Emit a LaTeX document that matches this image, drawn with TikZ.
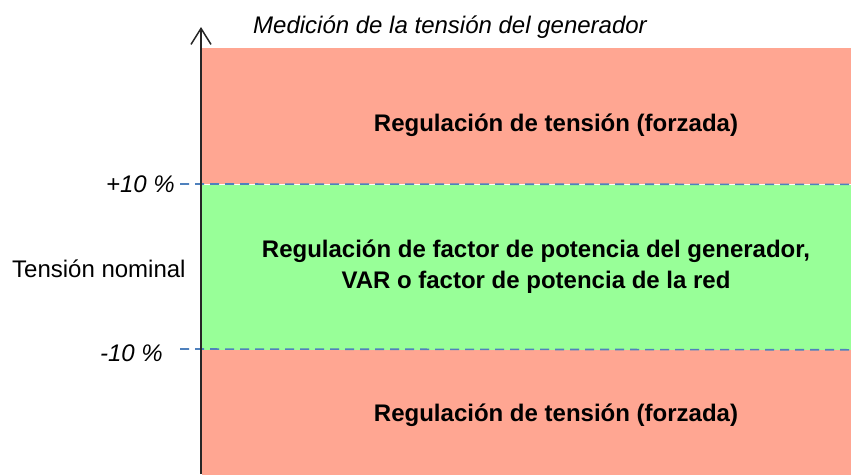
\documentclass[tikz,border=0pt]{standalone}
\usepackage{fontspec}
\setmainfont{Liberation Sans}
\usetikzlibrary{arrows.meta,positioning}
\definecolor{bandred}{RGB}{255,166,146}
\definecolor{bandgreen}{RGB}{152,255,152}
\definecolor{limitblue}{RGB}{79,129,189}
\tikzset{
  band/.style={rectangle,inner sep=0pt,minimum width=649pt,anchor=north west},
  redband/.style={band,fill=bandred},
  grnband/.style={band,fill=bandgreen},
  zonelbl/.style={font=\fontsize{24}{31}\selectfont\bfseries,align=center,inner sep=0pt},
  axlbl/.style={font=\fontsize{24}{28}\selectfont\itshape,inner sep=0pt},
  plainlbl/.style={font=\fontsize{24}{28}\selectfont,inner sep=0pt},
  limit/.style={limitblue,line width=1.6pt,dash pattern=on 9pt off 6pt},
  axis/.style={-{Straight Barb[length=16pt,width=20pt,line width=1.5pt]},line width=2pt,black!85}
}

\begin{document}
\begin{tikzpicture}[x=1pt,y=-1pt]
  \useasboundingbox (0,0) rectangle (851,474);

  % bands
  \node[redband,minimum height=136pt] (hi) at (202,48) {};
  \node[grnband,minimum height=165pt,below=0pt of hi] (mid) {};
  \node[redband,minimum height=125pt,below=0pt of mid] (lo) {};

  % limits
  \coordinate (hi10) at (180,184);
  \coordinate (lo10) at (180,349);
  \draw[limit] (hi10) -- (hi.south east);
  \draw[limit] (lo10) -- (mid.south east);

  % axis
  \coordinate (axbot) at (201,474);
  \coordinate (axtop) at (201,27);
  \draw[axis] (axbot) -- (axtop);

  \begin{scope}
    \clip (0,0) rectangle (851,37);
    \node[axlbl,anchor=base west] (title) at (253,33) {Medición de la tensión del generador};
  \end{scope}

  \node[axlbl,anchor=base east] (plus) at (175,192) {+10 \%};
  \node[axlbl,anchor=base east] (minus) at (163,361) {-10 \%};
  \node[plainlbl,anchor=base west] (nominal) at (12,277) {Tensión nominal};

  \node[zonelbl,anchor=base] (hitxt) at (556,131) {Regulación de tensión (forzada)};
  \node[zonelbl] (midtxt) at (536,267) {Regulación de factor de potencia del generador,\\VAR o factor de potencia de la red};
  \node[zonelbl,anchor=base] (lotxt) at (556,421) {Regulación de tensión (forzada)};
\end{tikzpicture}
\end{document}
